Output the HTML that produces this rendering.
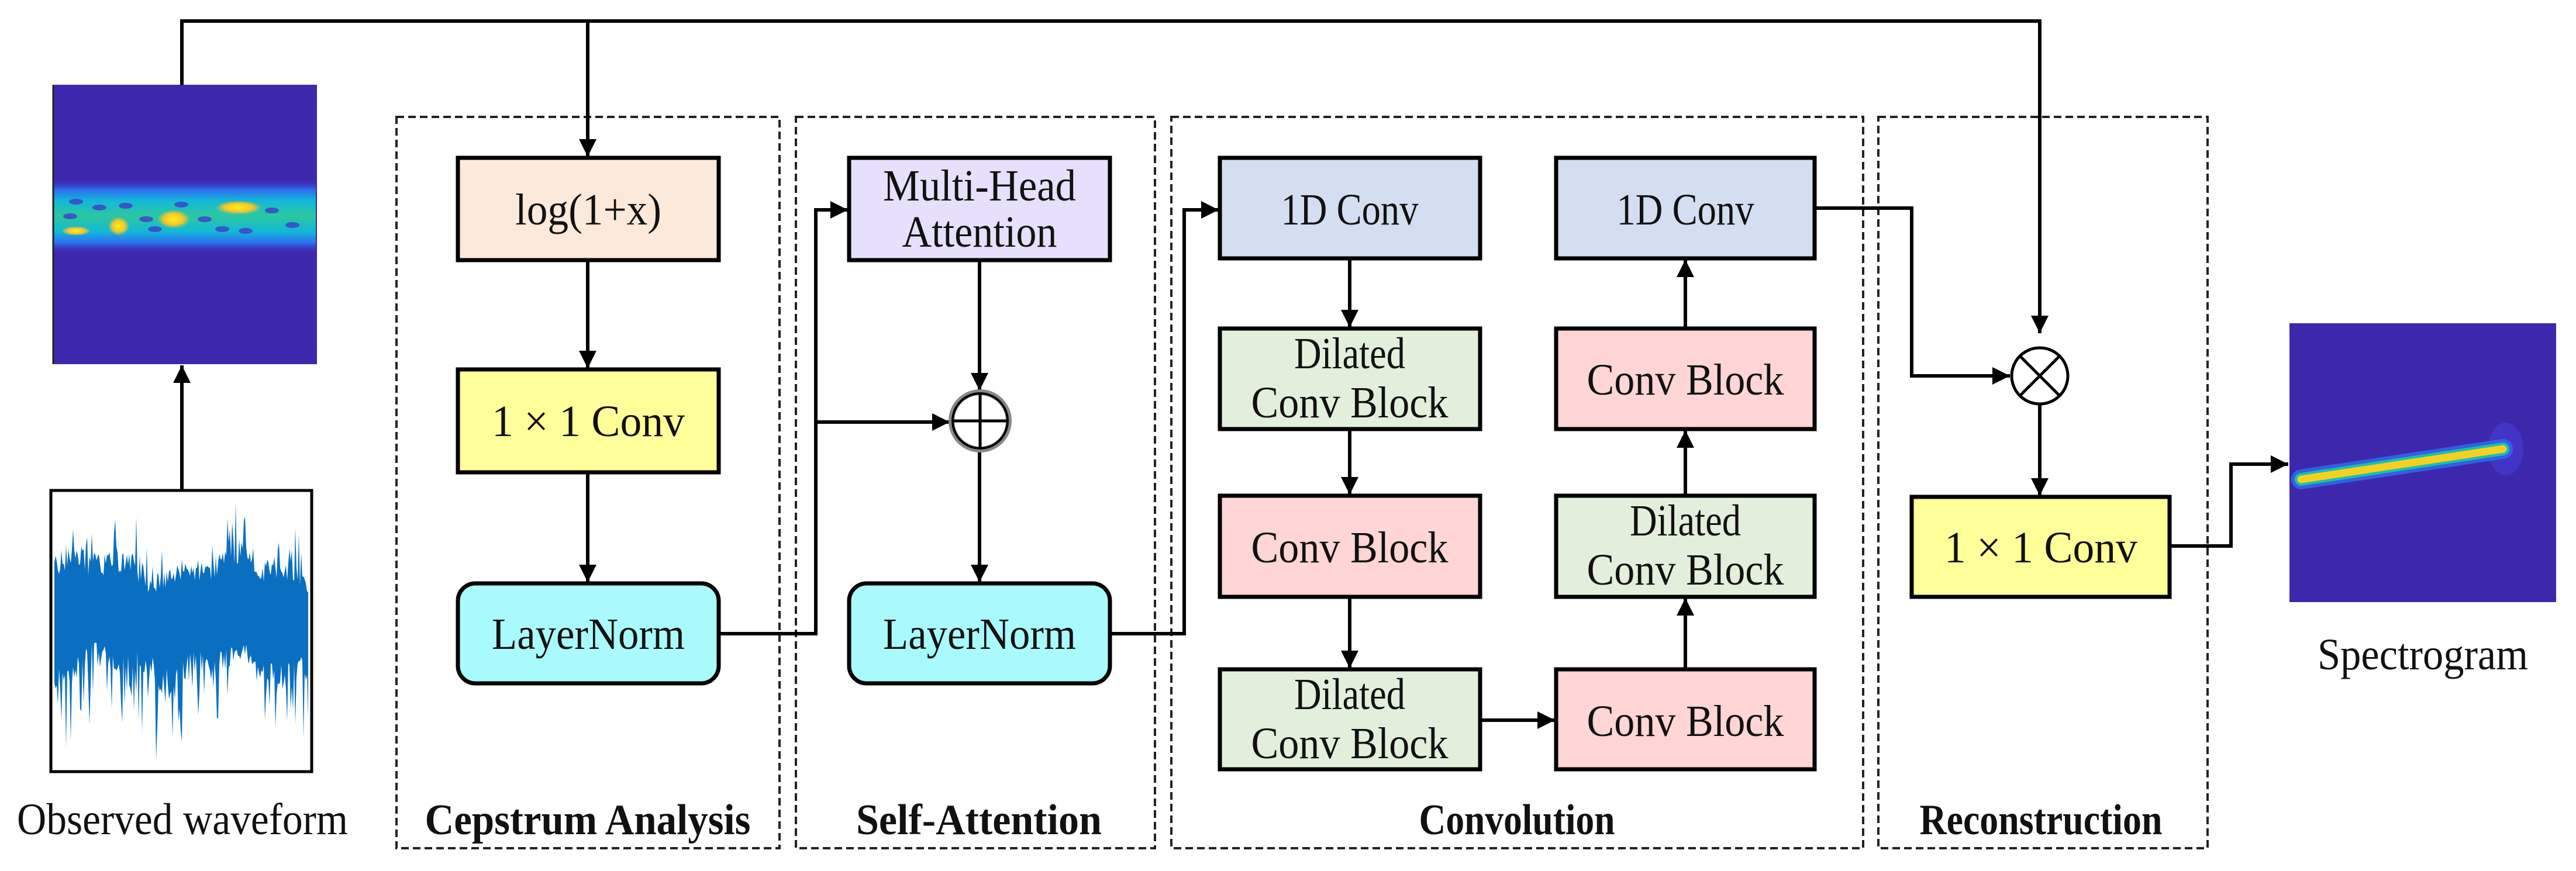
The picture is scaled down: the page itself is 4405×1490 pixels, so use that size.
<!DOCTYPE html>
<html><head><meta charset="utf-8"><style>html,body{margin:0;padding:0;background:#fff}svg{display:block}</style></head>
<body>
<svg width="4405" height="1490" viewBox="0 0 4405 1490" xmlns="http://www.w3.org/2000/svg" font-family="'Liberation Serif', serif">
<defs>
<linearGradient id="band" x1="0" y1="0" x2="0" y2="1">
<stop offset="0" stop-color="#3d27ad" stop-opacity="0"/>
<stop offset="0.15" stop-color="#2f6ef0"/>
<stop offset="0.3" stop-color="#12b9d6"/>
<stop offset="0.5" stop-color="#2cc7a0"/>
<stop offset="0.7" stop-color="#12b9d6"/>
<stop offset="0.85" stop-color="#2f6ef0"/>
<stop offset="1" stop-color="#3d27ad" stop-opacity="0"/>
</linearGradient>
<radialGradient id="hot"><stop offset="0" stop-color="#fff01a"/><stop offset="0.6" stop-color="#f5c52a"/><stop offset="1" stop-color="#f5c52a" stop-opacity="0"/></radialGradient>
<marker id="ah" viewBox="0 0 10 10" refX="10" refY="5" markerWidth="5" markerHeight="5" markerUnits="strokeWidth" orient="auto"><path d="M0,0 L10,5 L0,10 z" fill="#000"/></marker>
</defs>

<g fill="none" stroke="#222" stroke-width="4" stroke-dasharray="13,7">
<rect x="678" y="200" width="655" height="1251"/>
<rect x="1361" y="200" width="614" height="1251"/>
<rect x="2003" y="200" width="1183" height="1251"/>
<rect x="3212" y="200" width="563" height="1251"/>
</g>

<!-- spectrogram 1 -->
<rect x="90" y="145" width="452" height="478" fill="#3d28ad"/>
<rect x="92" y="305" width="448" height="130" fill="url(#band)"/>
<g fill="#3d3fc8" opacity="0.8">
<ellipse cx="130" cy="345" rx="12" ry="5"/><ellipse cx="170" cy="355" rx="12" ry="5"/><ellipse cx="215" cy="352" rx="12" ry="5"/><ellipse cx="250" cy="375" rx="12" ry="5"/><ellipse cx="265" cy="392" rx="12" ry="5"/><ellipse cx="350" cy="375" rx="12" ry="5"/><ellipse cx="380" cy="392" rx="12" ry="5"/><ellipse cx="465" cy="360" rx="12" ry="5"/><ellipse cx="500" cy="385" rx="12" ry="5"/><ellipse cx="120" cy="370" rx="12" ry="5"/><ellipse cx="310" cy="350" rx="12" ry="5"/><ellipse cx="420" cy="395" rx="12" ry="5"/>
</g>
<ellipse cx="297" cy="375" rx="28" ry="16" fill="url(#hot)"/>
<ellipse cx="408" cy="355" rx="40" ry="12" fill="url(#hot)"/>
<ellipse cx="203" cy="387" rx="18" ry="16" fill="url(#hot)"/>
<ellipse cx="130" cy="395" rx="25" ry="8" fill="url(#hot)"/>
<line x1="91" y1="145" x2="91" y2="623" stroke="#222" stroke-width="3"/>

<!-- waveform -->
<rect x="87" y="839" width="446" height="481" fill="#fff" stroke="#000" stroke-width="5"/>
<path id="wave" fill="#0a6fc0" d=""/>

<!-- spectrogram 2 -->
<rect x="3915" y="553" width="456" height="477" fill="#3d28ad"/>
<ellipse cx="4285" cy="768" rx="30" ry="45" fill="#4a43e0" opacity="0.45"/>
<line x1="3935" y1="820" x2="4280" y2="768" stroke="#2f6ef0" stroke-width="34" stroke-linecap="round" opacity="0.8"/>
<line x1="3935" y1="820" x2="4280" y2="768" stroke="#18c0b0" stroke-width="22" stroke-linecap="round"/>
<line x1="3935" y1="820" x2="4280" y2="768" stroke="#f5d020" stroke-width="13" stroke-linecap="round"/>

<g fill="none" stroke="#000" stroke-width="6">
<polyline points="311,145 311,36 3488,36 3488,570" marker-end="url(#ah)"/>
<line x1="1005" y1="36" x2="1005" y2="268" marker-end="url(#ah)"/>
<line x1="311" y1="839" x2="311" y2="625" marker-end="url(#ah)"/>
<line x1="1005" y1="445" x2="1005" y2="630" marker-end="url(#ah)"/>
<line x1="1005" y1="808" x2="1005" y2="996" marker-end="url(#ah)"/>
<polyline points="1229,1084 1395,1084 1395,359 1450,359" marker-end="url(#ah)"/>
<line x1="1395" y1="722" x2="1624" y2="722" marker-end="url(#ah)"/>
<line x1="1675" y1="445" x2="1675" y2="668" marker-end="url(#ah)"/>
<line x1="1675" y1="770" x2="1675" y2="996" marker-end="url(#ah)"/>
<polyline points="1898,1084 2025,1084 2025,359 2084,359" marker-end="url(#ah)"/>
<line x1="2308" y1="442" x2="2308" y2="560" marker-end="url(#ah)"/>
<line x1="2308" y1="734" x2="2308" y2="846" marker-end="url(#ah)"/>
<line x1="2308" y1="1021" x2="2308" y2="1143" marker-end="url(#ah)"/>
<line x1="2531" y1="1232" x2="2659" y2="1232" marker-end="url(#ah)"/>
<line x1="2882" y1="1145" x2="2882" y2="1023" marker-end="url(#ah)"/>
<line x1="2882" y1="848" x2="2882" y2="736" marker-end="url(#ah)"/>
<line x1="2882" y1="562" x2="2882" y2="444" marker-end="url(#ah)"/>
<polyline points="3103,356 3269,356 3269,643 3437,643" marker-end="url(#ah)"/>
<line x1="3488" y1="692" x2="3488" y2="848" marker-end="url(#ah)"/>
<polyline points="3710,934 3815,934 3815,794 3913,794" marker-end="url(#ah)"/>
</g>

<circle cx="1676" cy="720" r="49" fill="#fff" stroke="#888" stroke-width="10"/>
<circle cx="1676" cy="720" r="47" fill="none" stroke="#000" stroke-width="4"/>
<line x1="1629" y1="720" x2="1723" y2="720" stroke="#000" stroke-width="5"/>
<line x1="1676" y1="673" x2="1676" y2="767" stroke="#000" stroke-width="5"/>

<circle cx="3488" cy="643" r="48" fill="#fff" stroke="#000" stroke-width="5"/>
<line x1="3454" y1="609" x2="3522" y2="677" stroke="#000" stroke-width="5"/>
<line x1="3522" y1="609" x2="3454" y2="677" stroke="#000" stroke-width="5"/>

<g stroke="#000" stroke-width="7">
<rect x="783" y="270" width="446" height="175" fill="#fde9d9"/>
<rect x="783" y="632" width="446" height="176" fill="#ffff99"/>
<rect x="783" y="998" width="446" height="171" rx="30" fill="#a9fafd"/>
<rect x="1452" y="270" width="446" height="175" fill="#e6e0fc"/>
<rect x="1452" y="998" width="446" height="171" rx="30" fill="#a9fafd"/>
<rect x="2086" y="270" width="445" height="172" fill="#d3def0"/>
<rect x="2661" y="270" width="442" height="172" fill="#d3def0"/>
<rect x="2086" y="562" width="445" height="172" fill="#e2efda"/>
<rect x="2086" y="848" width="445" height="173" fill="#ffd5d5"/>
<rect x="2086" y="1145" width="445" height="171" fill="#e2efda"/>
<rect x="2661" y="562" width="442" height="172" fill="#ffd5d5"/>
<rect x="2661" y="848" width="442" height="173" fill="#e2efda"/>
<rect x="2661" y="1145" width="442" height="171" fill="#ffd5d5"/>
<rect x="3269" y="850" width="441" height="171" fill="#ffff99"/>
</g>

<g font-size="76" text-anchor="middle" fill="#111" lengthAdjust="spacingAndGlyphs">
<text x="1006" y="384" textLength="250" lengthAdjust="spacingAndGlyphs">log(1+x)</text>
<text x="1006" y="746" textLength="330" lengthAdjust="spacingAndGlyphs">1 × 1 Conv</text>
<text x="1006" y="1110" textLength="330" lengthAdjust="spacingAndGlyphs">LayerNorm</text>
<text x="1675" y="343" textLength="330" lengthAdjust="spacingAndGlyphs">Multi-Head</text>
<text x="1675" y="422" textLength="265" lengthAdjust="spacingAndGlyphs">Attention</text>
<text x="1675" y="1110" textLength="330" lengthAdjust="spacingAndGlyphs">LayerNorm</text>
<text x="2308" y="384" textLength="235" lengthAdjust="spacingAndGlyphs">1D Conv</text>
<text x="2882" y="384" textLength="235" lengthAdjust="spacingAndGlyphs">1D Conv</text>
<text x="2308" y="630" textLength="190" lengthAdjust="spacingAndGlyphs">Dilated</text>
<text x="2308" y="714" textLength="337" lengthAdjust="spacingAndGlyphs">Conv Block</text>
<text x="2308" y="962" textLength="337" lengthAdjust="spacingAndGlyphs">Conv Block</text>
<text x="2308" y="1213" textLength="190" lengthAdjust="spacingAndGlyphs">Dilated</text>
<text x="2308" y="1297" textLength="337" lengthAdjust="spacingAndGlyphs">Conv Block</text>
<text x="2882" y="675" textLength="337" lengthAdjust="spacingAndGlyphs">Conv Block</text>
<text x="2882" y="916" textLength="190" lengthAdjust="spacingAndGlyphs">Dilated</text>
<text x="2882" y="1000" textLength="337" lengthAdjust="spacingAndGlyphs">Conv Block</text>
<text x="2882" y="1259" textLength="337" lengthAdjust="spacingAndGlyphs">Conv Block</text>
<text x="3490" y="962" textLength="330" lengthAdjust="spacingAndGlyphs">1 × 1 Conv</text>
<text x="312" y="1427" textLength="566" lengthAdjust="spacingAndGlyphs">Observed waveform</text>
<text x="4143" y="1145" textLength="360" lengthAdjust="spacingAndGlyphs">Spectrogram</text>
</g>
<g font-size="74" font-weight="bold" text-anchor="middle" fill="#111">
<text x="1005" y="1427" textLength="557" lengthAdjust="spacingAndGlyphs">Cepstrum Analysis</text>
<text x="1674" y="1427" textLength="420" lengthAdjust="spacingAndGlyphs">Self-Attention</text>
<text x="2594" y="1427" textLength="335" lengthAdjust="spacingAndGlyphs">Convolution</text>
<text x="3490" y="1427" textLength="415" lengthAdjust="spacingAndGlyphs">Reconstruction</text>
</g>
</svg>
<script>
(function(){
var s=98765;function r(){s=(s*1103515245+12345)%2147483648;return s/2147483648;}
var x0=93,x1=527,cy=1050,top=[],bot=[];
for(var x=x0;x<=x1;x+=2){
 var t=(x-x0)/(x1-x0);
 var envT=95+25*Math.sin(t*11)+15*Math.sin(t*29);
 var envB=110+25*Math.sin(t*13+2)+15*Math.sin(t*31);
 var a=envT*(0.6+0.4*r());
 if(r()<0.25) a+=90*r()*r()+30*r();
 var b=envB*(0.6+0.4*r());
 if(r()<0.25) b+=140*r()*r()+40*r();
 top.push(x+','+(cy-Math.min(a,190)).toFixed(1));
 bot.push(x+','+(cy+Math.min(b,250)).toFixed(1));
}
document.getElementById('wave').setAttribute('d','M'+top.join(' L')+' L'+bot.reverse().join(' L')+' Z');
})();
</script>
</body></html>
